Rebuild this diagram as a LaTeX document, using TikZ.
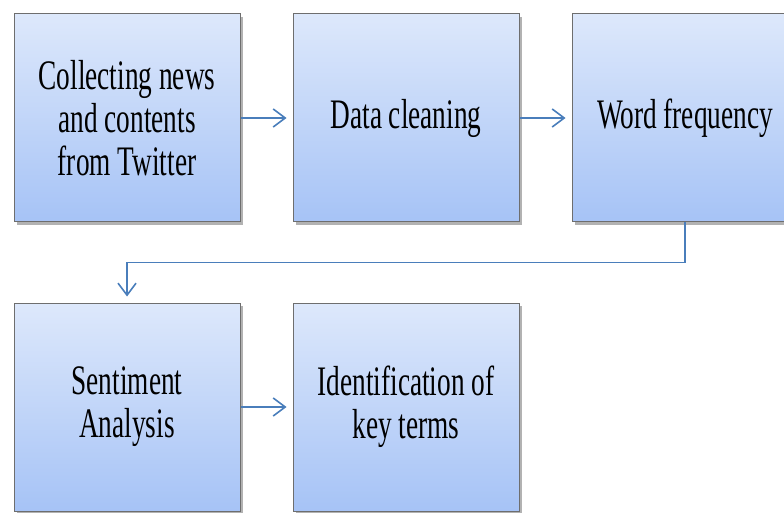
\documentclass[tikz,border=0pt]{standalone}
\usepackage{fontspec}
\newfontfamily\boxfont{Liberation Serif}[FakeStretch=0.65]
\usetikzlibrary{positioning,shadows,arrows.meta}
\definecolor{boxtop}{HTML}{DDE8FB}
\definecolor{boxbot}{HTML}{A6C3F6}
\definecolor{boxline}{HTML}{6E6E6E}
\definecolor{flowblue}{HTML}{4A7EBB}
\tikzset{
  stage/.style={draw=boxline, line width=1pt, top color=boxtop, bottom color=boxbot,
    minimum width=226pt, minimum height=208pt, inner sep=0pt, align=center,
    font=\boxfont\fontsize{42}{43}\selectfont,
    drop shadow={shadow xshift=3pt, shadow yshift=-3pt, fill=black, opacity=0.3}},
  flow/.style={draw=flowblue, line width=1.6pt, shorten >=6pt,
    -{Straight Barb[length=12pt,width=18pt,line width=1.6pt]}}
}
\begin{document}
\begin{tikzpicture}[x=1pt,y=1pt]
  \useasboundingbox (0,0) rectangle (784,512);
  \clip (0,0) rectangle (784,512);
  % top row
  \node[stage] (collect) at (127,394) {Collecting news\\and contents\\from Twitter};
  \node[stage, right=52pt of collect] (clean) {Data cleaning};
  \node[stage, right=52pt of clean] (word) {Word frequency};
  % bottom row
  \node[stage, below=80pt of collect] (senti) {Sentiment\\Analysis};
  \node[stage, right=52pt of senti] (terms) {Identification of\\key terms};
  % arrows
  \draw[flow] (collect) -- (clean);
  \draw[flow] (clean) -- (word);
  \draw[flow] (word.south) -- ++(0,-40) -| (senti.north);
  \draw[flow] (senti) -- (terms);
\end{tikzpicture}
\end{document}
